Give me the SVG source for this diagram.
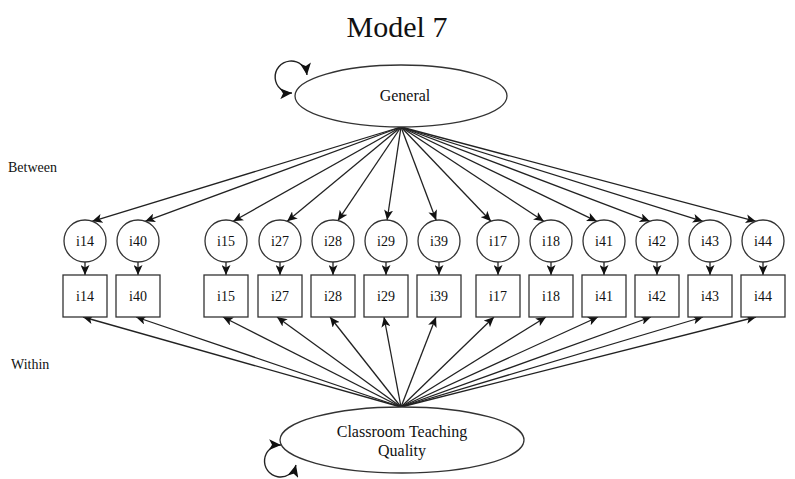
<svg xmlns="http://www.w3.org/2000/svg" width="795" height="479" viewBox="0 0 795 479">
  <style>
    text { font-family: "Liberation Serif", "Times New Roman", serif; fill: #111; }
    .title { font-size: 30px; text-anchor: middle; }
    .level { font-size: 14px; }
    .lbl { font-size: 14px; text-anchor: middle; }
    .big { font-size: 16px; text-anchor: middle; }
    .shape { fill: #fff; stroke: #333; stroke-width: 1.3; }
    .edge { fill: none; stroke: #222; stroke-width: 1.3; marker-end: url(#arrow); }
    .loop { fill: none; stroke: #222; stroke-width: 1.4; marker-start: url(#arrowS); marker-end: url(#arrowL); }
  </style>
  <defs>
    <marker id="arrow" markerUnits="userSpaceOnUse" markerWidth="11" markerHeight="9" refX="10" refY="4.5" orient="auto">
      <path d="M0,0 L10,4.5 L0,9 L2.5,4.5 z" fill="#111"/>
    </marker>
    <marker id="arrowL" markerUnits="userSpaceOnUse" markerWidth="13" markerHeight="11" refX="12" refY="5.5" orient="auto">
      <path d="M0,0 L12,5.5 L0,11 L3,5.5 z" fill="#111"/>
    </marker>
    <marker id="arrowS" markerUnits="userSpaceOnUse" markerWidth="13" markerHeight="11" refX="0" refY="5.5" orient="auto">
      <path d="M12,0 L0,5.5 L12,11 L9,5.5 z" fill="#111"/>
    </marker>
  </defs>

  <rect width="795" height="479" fill="#fff"/>

  <text class="title" x="397" y="37">Model 7</text>
  <text class="level" x="8" y="172">Between</text>
  <text class="level" x="11" y="369">Within</text>

  <!-- connectors -->
  <g id="connectors">
    <!-- between-level loadings -->
    <line class="edge" x1="401" y1="127" x2="92.2" y2="221.3"/>
    <line class="edge" x1="401" y1="127" x2="145.2" y2="221.3"/>
    <line class="edge" x1="401" y1="127" x2="233.2" y2="221.3"/>
    <line class="edge" x1="401" y1="127" x2="287.2" y2="221.3"/>
    <line class="edge" x1="401" y1="127" x2="337.9" y2="220.6"/>
    <line class="edge" x1="401" y1="127" x2="387.1" y2="220"/>
    <line class="edge" x1="401" y1="127" x2="436.2" y2="220.2"/>
    <line class="edge" x1="401" y1="127" x2="491" y2="221.2"/>
    <line class="edge" x1="401" y1="127" x2="543.8" y2="221.3"/>
    <line class="edge" x1="401" y1="127" x2="596.8" y2="221.3"/>
    <line class="edge" x1="401" y1="127" x2="649.8" y2="221.3"/>
    <line class="edge" x1="401" y1="127" x2="702.8" y2="221.3"/>
    <line class="edge" x1="401" y1="127" x2="755.8" y2="221.3"/>

    <!-- between item to observed item -->
    <line class="edge" x1="85" y1="262" x2="85" y2="275"/>
    <line class="edge" x1="138" y1="262" x2="138" y2="275"/>
    <line class="edge" x1="226" y1="262" x2="226" y2="275"/>
    <line class="edge" x1="280" y1="262" x2="280" y2="275"/>
    <line class="edge" x1="333" y1="262" x2="333" y2="275"/>
    <line class="edge" x1="386" y1="262" x2="386" y2="275"/>
    <line class="edge" x1="439" y1="262" x2="439" y2="275"/>
    <line class="edge" x1="498" y1="262" x2="498" y2="275"/>
    <line class="edge" x1="551" y1="262" x2="551" y2="275"/>
    <line class="edge" x1="604" y1="262" x2="604" y2="275"/>
    <line class="edge" x1="657" y1="262" x2="657" y2="275"/>
    <line class="edge" x1="710" y1="262" x2="710" y2="275"/>
    <line class="edge" x1="763" y1="262" x2="763" y2="275"/>

    <!-- within-level loadings -->
    <line class="edge" x1="401" y1="407" x2="83" y2="317"/>
    <line class="edge" x1="401" y1="407" x2="136" y2="317"/>
    <line class="edge" x1="401" y1="407" x2="223" y2="317"/>
    <line class="edge" x1="401" y1="407" x2="277" y2="317"/>
    <line class="edge" x1="401" y1="407" x2="330" y2="317"/>
    <line class="edge" x1="401" y1="407" x2="384" y2="317"/>
    <line class="edge" x1="401" y1="407" x2="436" y2="317"/>
    <line class="edge" x1="401" y1="407" x2="494" y2="317"/>
    <line class="edge" x1="401" y1="407" x2="546" y2="317"/>
    <line class="edge" x1="401" y1="407" x2="598" y2="317"/>
    <line class="edge" x1="401" y1="407" x2="651" y2="317"/>
    <line class="edge" x1="401" y1="407" x2="703" y2="317"/>
    <line class="edge" x1="401" y1="407" x2="756" y2="317"/>

    <!-- factor variances -->
    <path class="loop" d="M292,93 A16,16 0 1 1 307,75"/>
    <path class="loop" d="M281,445 A16,16 0 1 0 296,465"/>
  </g>

  <g id="general">
    <ellipse class="shape" cx="401" cy="96" rx="106" ry="31"/>
    <text class="big" x="405" y="101">General</text>
  </g>

  <g id="ctq">
    <ellipse class="shape" cx="402" cy="440" rx="122" ry="33"/>
    <text class="big" x="402" y="437">Classroom Teaching</text>
    <text class="big" x="402" y="456">Quality</text>
  </g>

  <!-- between-level items -->
  <g id="b_i14"><circle class="shape" cx="85" cy="241" r="21"/><text class="lbl" x="85" y="246">i14</text></g>
  <g id="b_i40"><circle class="shape" cx="138" cy="241" r="21"/><text class="lbl" x="138" y="246">i40</text></g>
  <g id="b_i15"><circle class="shape" cx="226" cy="241" r="21"/><text class="lbl" x="226" y="246">i15</text></g>
  <g id="b_i27"><circle class="shape" cx="280" cy="241" r="21"/><text class="lbl" x="280" y="246">i27</text></g>
  <g id="b_i28"><circle class="shape" cx="333" cy="241" r="21"/><text class="lbl" x="333" y="246">i28</text></g>
  <g id="b_i29"><circle class="shape" cx="386" cy="241" r="21"/><text class="lbl" x="386" y="246">i29</text></g>
  <g id="b_i39"><circle class="shape" cx="439" cy="241" r="21"/><text class="lbl" x="439" y="246">i39</text></g>
  <g id="b_i17"><circle class="shape" cx="498" cy="241" r="21"/><text class="lbl" x="498" y="246">i17</text></g>
  <g id="b_i18"><circle class="shape" cx="551" cy="241" r="21"/><text class="lbl" x="551" y="246">i18</text></g>
  <g id="b_i41"><circle class="shape" cx="604" cy="241" r="21"/><text class="lbl" x="604" y="246">i41</text></g>
  <g id="b_i42"><circle class="shape" cx="657" cy="241" r="21"/><text class="lbl" x="657" y="246">i42</text></g>
  <g id="b_i43"><circle class="shape" cx="710" cy="241" r="21"/><text class="lbl" x="710" y="246">i43</text></g>
  <g id="b_i44"><circle class="shape" cx="763" cy="241" r="21"/><text class="lbl" x="763" y="246">i44</text></g>

  <!-- observed items -->
  <g id="w_i14"><rect class="shape" x="63" y="275" width="44" height="42"/><text class="lbl" x="85" y="301">i14</text></g>
  <g id="w_i40"><rect class="shape" x="116" y="275" width="44" height="42"/><text class="lbl" x="138" y="301">i40</text></g>
  <g id="w_i15"><rect class="shape" x="204" y="275" width="44" height="42"/><text class="lbl" x="226" y="301">i15</text></g>
  <g id="w_i27"><rect class="shape" x="258" y="275" width="44" height="42"/><text class="lbl" x="280" y="301">i27</text></g>
  <g id="w_i28"><rect class="shape" x="311" y="275" width="44" height="42"/><text class="lbl" x="333" y="301">i28</text></g>
  <g id="w_i29"><rect class="shape" x="364" y="275" width="44" height="42"/><text class="lbl" x="386" y="301">i29</text></g>
  <g id="w_i39"><rect class="shape" x="417" y="275" width="44" height="42"/><text class="lbl" x="439" y="301">i39</text></g>
  <g id="w_i17"><rect class="shape" x="476" y="275" width="44" height="42"/><text class="lbl" x="498" y="301">i17</text></g>
  <g id="w_i18"><rect class="shape" x="529" y="275" width="44" height="42"/><text class="lbl" x="551" y="301">i18</text></g>
  <g id="w_i41"><rect class="shape" x="582" y="275" width="44" height="42"/><text class="lbl" x="604" y="301">i41</text></g>
  <g id="w_i42"><rect class="shape" x="635" y="275" width="44" height="42"/><text class="lbl" x="657" y="301">i42</text></g>
  <g id="w_i43"><rect class="shape" x="688" y="275" width="44" height="42"/><text class="lbl" x="710" y="301">i43</text></g>
  <g id="w_i44"><rect class="shape" x="741" y="275" width="44" height="42"/><text class="lbl" x="763" y="301">i44</text></g>
</svg>
